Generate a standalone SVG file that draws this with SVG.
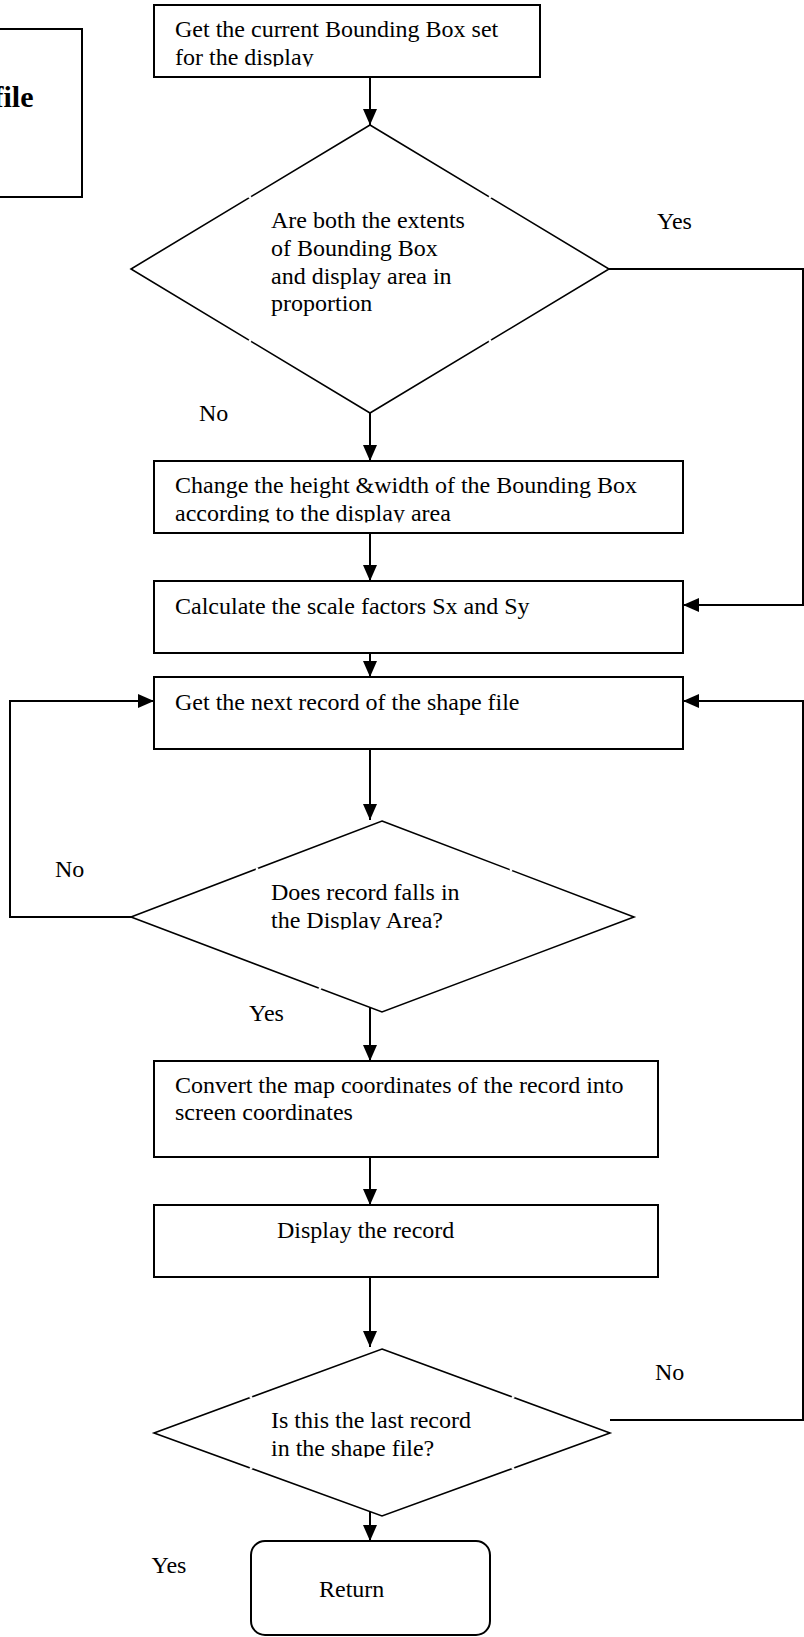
<svg xmlns="http://www.w3.org/2000/svg" width="804" height="1637" viewBox="0 0 804 1637">
  <style>
    .box { fill: #fff; stroke: #000; stroke-width: 2; }
    .dia { fill: #fff; stroke: #000; stroke-width: 1.6; }
    .txt { font-family: "Liberation Serif", "Times New Roman", serif; font-size: 24px; fill: #000; }
    .lbl { font-family: "Liberation Serif", "Times New Roman", serif; font-size: 24px; fill: #000; }
    .ttl { font-family: "Liberation Serif", "Times New Roman", serif; font-size: 30px; font-weight: bold; fill: #000; }
    .edge { fill: none; stroke: #000; stroke-width: 2; }
    .gap { fill: #fff; }
  </style>
  <defs>
    <marker id="arr" markerUnits="userSpaceOnUse" markerWidth="16" markerHeight="14" refX="16" refY="7" orient="auto">
      <path d="M0,0 L16,7 L0,14 z" fill="#000"/>
    </marker>
    <clipPath id="clipBox1"><rect x="154" y="5" width="386" height="61.5"/></clipPath>
    <clipPath id="clipBox2"><rect x="154" y="461" width="529" height="61.5"/></clipPath>
    <clipPath id="clipDia2"><rect x="131" y="821" width="503" height="108.5"/></clipPath>
    <clipPath id="clipDia3"><rect x="154" y="1349" width="456" height="108.5"/></clipPath>
  </defs>

  <!-- title box, running off the left edge of the page -->
  <g id="title">
    <rect class="box" x="-10" y="29" width="92" height="168"/>
    <text class="ttl" x="33.5" y="107" text-anchor="end">file</text>
  </g>

  <g id="getBBox">
    <rect class="box" x="154" y="5" width="386" height="72"/>
    <g clip-path="url(#clipBox1)">
      <text class="txt" x="175" y="37.3">Get the current Bounding Box set</text>
      <text class="txt" x="175" y="64.9">for the display</text>
    </g>
  </g>

  <g id="inProportion">
    <polygon class="dia" points="370,125 609,269 370,413 131,269"/>
    <circle class="gap" cx="250" cy="197.3" r="1.4"/>
    <circle class="gap" cx="490" cy="197.3" r="1.4"/>
    <circle class="gap" cx="250" cy="340.7" r="1.4"/>
    <circle class="gap" cx="490" cy="340.7" r="1.4"/>
    <text class="txt" x="271" y="228.3">Are both the extents</text>
    <text class="txt" x="271" y="256">of Bounding Box</text>
    <text class="txt" x="271" y="283.7">and display area in</text>
    <text class="txt" x="271" y="311.3">proportion</text>
  </g>

  <g id="changeSize">
    <rect class="box" x="154" y="461" width="529" height="72"/>
    <g clip-path="url(#clipBox2)">
      <text class="txt" x="175" y="493.3">Change the height &amp;width of the Bounding Box</text>
      <text class="txt" x="175" y="520.9">according to the display area</text>
    </g>
  </g>

  <g id="scaleFactors">
    <rect class="box" x="154" y="581" width="529" height="72"/>
    <text class="txt" x="175" y="614">Calculate the scale factors Sx and Sy</text>
  </g>

  <g id="nextRecord">
    <rect class="box" x="154" y="677" width="529" height="72"/>
    <text class="txt" x="175" y="710">Get the next record of the shape file</text>
  </g>

  <g id="inDisplayArea">
    <polygon class="dia" points="382,821 634,917 382,1012 131,917"/>
    <circle class="gap" cx="257" cy="869" r="1.4"/>
    <circle class="gap" cx="511" cy="870" r="1.4"/>
    <circle class="gap" cx="320" cy="988.5" r="1.4"/>
    <g clip-path="url(#clipDia2)">
      <text class="txt" x="271" y="900">Does record falls in</text>
      <text class="txt" x="271" y="927.6">the Display Area?</text>
    </g>
  </g>

  <g id="convertCoords">
    <rect class="box" x="154" y="1061" width="504" height="96"/>
    <text class="txt" x="175" y="1092.7">Convert the map coordinates of the record into</text>
    <text class="txt" x="175" y="1120.3">screen coordinates</text>
  </g>

  <g id="displayRecord">
    <rect class="box" x="154" y="1205" width="504" height="72"/>
    <text class="txt" x="277" y="1237.5">Display the record</text>
  </g>

  <g id="lastRecord">
    <polygon class="dia" points="382,1349 610,1433 382,1516 154,1433"/>
    <circle class="gap" cx="251" cy="1397.3" r="1.4"/>
    <circle class="gap" cx="513" cy="1397.3" r="1.4"/>
    <circle class="gap" cx="251" cy="1468.3" r="1.4"/>
    <circle class="gap" cx="513" cy="1468.3" r="1.4"/>
    <g clip-path="url(#clipDia3)">
      <text class="txt" x="271" y="1428.3">Is this the last record</text>
      <text class="txt" x="271" y="1456">in the shape file?</text>
    </g>
  </g>

  <g id="return">
    <rect class="box" x="251" y="1541" width="239" height="94" rx="14" ry="14"/>
    <text class="txt" x="319" y="1596.7">Return</text>
  </g>

  <!-- connectors -->
  <g id="connectors">
    <line class="edge" x1="370" y1="77" x2="370" y2="125" marker-end="url(#arr)"/>
    <line class="edge" x1="370" y1="413" x2="370" y2="461" marker-end="url(#arr)"/>
    <polyline class="edge" points="609,269 803,269 803,605 683,605" marker-end="url(#arr)"/>
    <line class="edge" x1="370" y1="533" x2="370" y2="581" marker-end="url(#arr)"/>
    <line class="edge" x1="370" y1="653" x2="370" y2="677" marker-end="url(#arr)"/>
    <line class="edge" x1="370" y1="749" x2="370" y2="820" marker-end="url(#arr)"/>
    <polyline class="edge" points="131,917 10,917 10,701 154,701" marker-end="url(#arr)"/>
    <line class="edge" x1="370" y1="1007.5" x2="370" y2="1061" marker-end="url(#arr)"/>
    <line class="edge" x1="370" y1="1157" x2="370" y2="1205" marker-end="url(#arr)"/>
    <line class="edge" x1="370" y1="1277" x2="370" y2="1347" marker-end="url(#arr)"/>
    <polyline class="edge" points="610,1420 803,1420 803,701 683,701" marker-end="url(#arr)"/>
    <line class="edge" x1="370" y1="1512" x2="370" y2="1541" marker-end="url(#arr)"/>
  </g>

  <!-- branch labels -->
  <g id="labels">
    <text class="lbl" x="657" y="229.3">Yes</text>
    <text class="lbl" x="199" y="420.5">No</text>
    <text class="lbl" x="55" y="876.7">No</text>
    <text class="lbl" x="249" y="1020.5">Yes</text>
    <text class="lbl" x="655" y="1380">No</text>
    <text class="lbl" x="151.5" y="1572.5">Yes</text>
  </g>
</svg>
